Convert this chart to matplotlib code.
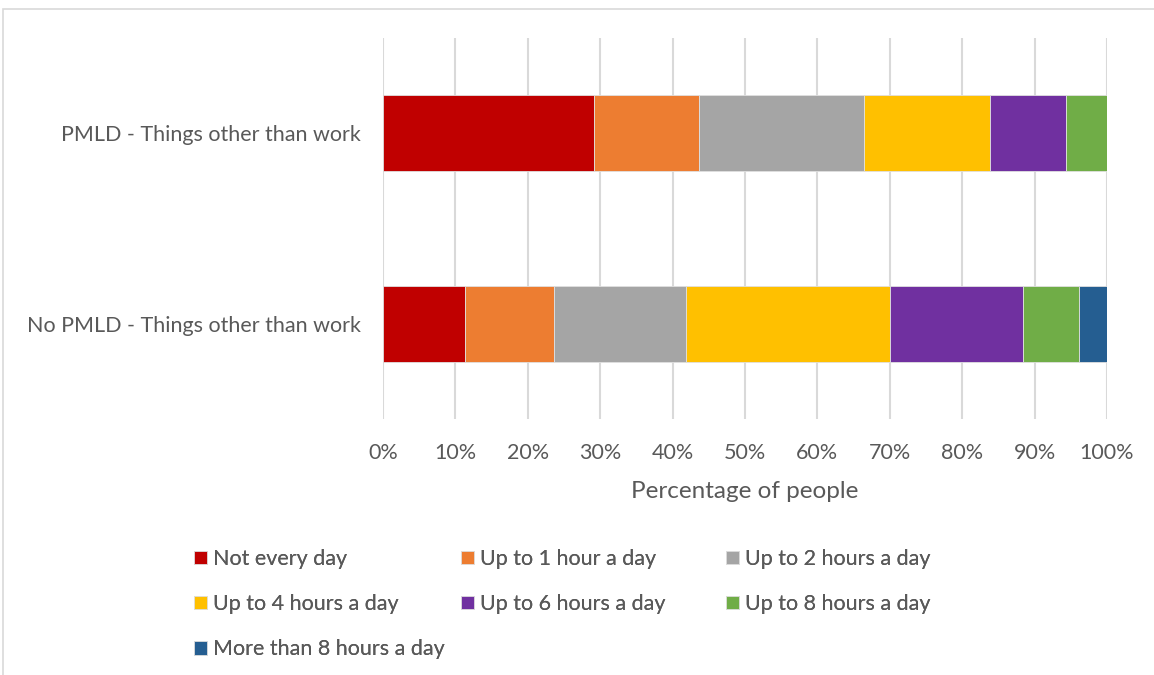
import matplotlib.pyplot as plt
from matplotlib.patches import Rectangle
from matplotlib.ticker import PercentFormatter

# groups, top to bottom
groups = ['PMLD - Things other than work', 'No PMLD - Things other than work']

categories = ['Not every day', 'Up to 1 hour a day', 'Up to 2 hours a day',
              'Up to 4 hours a day', 'Up to 6 hours a day', 'Up to 8 hours a day',
              'More than 8 hours a day']
colors = ['#c00000', '#ed7d31', '#a5a5a5', '#ffc000', '#7030a0', '#70ad47', '#255e91']

# share of people (%) per category, one list per group
pmld = [29.1, 14.6, 22.7, 17.4, 10.6, 5.6, 0.0]
no_pmld = [11.3, 12.3, 18.3, 28.1, 18.4, 7.8, 3.8]

text_col = '#595959'
fs = 15.5
plt.rcParams['font.family'] = ['Lato', 'DejaVu Sans']

W, H = 1154, 675
fig = plt.figure(figsize=(W / 100, H / 100), dpi=100)
ax = fig.add_axes([383 / W, 1 - 419 / H, 724 / W, 381 / H])

# chart border
fig.patches.append(Rectangle((3 / W, -0.1), 1.2, 1 - 9 / H + 0.1,
                             transform=fig.transFigure, fill=False,
                             edgecolor='#d9d9d9', linewidth=1.2, zorder=0))

ypos = [1, 0]
data = [pmld, no_pmld]
left = [0.0, 0.0]
handles = []
for i, cat in enumerate(categories):
    vals = [d[i] for d in data]
    b = ax.barh(ypos, vals, left=left, height=0.4, color=colors[i],
                edgecolor='#e0e0e0', linewidth=0.6, label=cat, zorder=3)
    handles.append(b)
    left = [l + v for l, v in zip(left, vals)]

ax.set_xlim(0, 100)
ax.set_ylim(-0.5, 1.5)
ax.set_xticks(range(0, 101, 10))
ax.xaxis.set_major_formatter(PercentFormatter(decimals=0))
ax.set_yticks(ypos)
ax.set_yticklabels(groups)
ax.tick_params(length=0, labelsize=fs, labelcolor=text_col)
ax.tick_params(axis='x', pad=17)
ax.tick_params(axis='y', pad=16)
ax.grid(axis='x', color='#d9d9d9', linewidth=1.5, zorder=0)
for s in ax.spines.values():
    s.set_visible(False)
ax.set_xlabel('Percentage of people', fontsize=17.5, color=text_col, labelpad=13)

# legend: three equal-width columns, laid out row-wise like the original
cols = [[0, 3, 6], [1, 4], [2, 5]]
col_x = [194, 461, 726]
for idx, x in zip(cols, col_x):
    leg = fig.legend([handles[k] for k in idx], [categories[k] for k in idx],
                     loc='upper left', bbox_to_anchor=(x / W, 1 - 549 / H),
                     frameon=False, fontsize=fs, labelcolor=text_col,
                     borderpad=0, borderaxespad=0,
                     handlelength=0.6, handleheight=0.6, handletextpad=0.3,
                     labelspacing=1.17)
    fig.add_artist(leg)

fig.savefig('out.png', dpi=100)
